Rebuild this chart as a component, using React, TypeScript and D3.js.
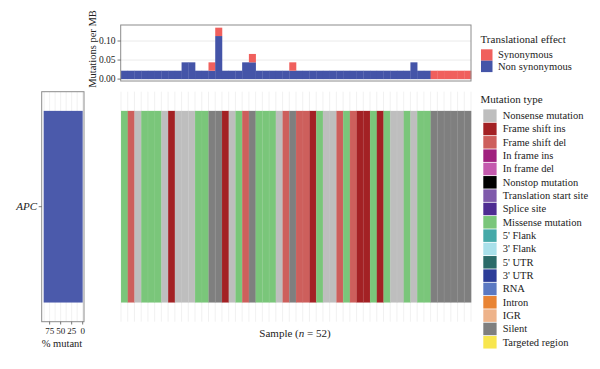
import React from 'react';
import * as d3 from 'd3';

// APC mutation type for each sample, left to right
const sampleMutation = [
  'Missense mutation', 'Frame shift del', 'Nonsense mutation', 'Missense mutation', 'Missense mutation',
  'Missense mutation', 'Nonsense mutation', 'Frame shift ins', 'Nonsense mutation', 'Nonsense mutation',
  'Nonsense mutation', 'Missense mutation', 'Missense mutation', 'Silent', 'Silent',
  'Frame shift ins', 'Nonsense mutation', 'Missense mutation', 'Frame shift del', 'Silent',
  'Missense mutation', 'Missense mutation', 'Missense mutation', 'Nonsense mutation', 'Frame shift del',
  'Silent', 'Frame shift del', 'Frame shift del', 'Frame shift ins', 'Missense mutation',
  'Nonsense mutation', 'Nonsense mutation', 'Frame shift del', 'Missense mutation', 'Frame shift del',
  'Frame shift ins', 'Frame shift ins', 'Missense mutation', 'Frame shift ins', 'Missense mutation',
  'Nonsense mutation', 'Nonsense mutation', 'Missense mutation', 'Nonsense mutation', 'Missense mutation',
  'Missense mutation', 'Silent', 'Silent', 'Silent', 'Silent', 'Silent', 'Silent',
];
const samples = sampleMutation.map((_, i) => 'S' + (i + 1));

// mutations per MB, per sample
const nonSynonymous = [
  0.022, 0.022, 0.022, 0.022, 0.022, 0.022, 0.022, 0.022, 0.022, 0.044,
  0.044, 0.022, 0.022, 0.022, 0.113, 0.022, 0.022, 0.022, 0.044, 0.044,
  0.022, 0.022, 0.022, 0.022, 0.022, 0.022, 0.022, 0.022, 0.022, 0.022,
  0.022, 0.022, 0.022, 0.022, 0.022, 0.022, 0.022, 0.022, 0.022, 0.022,
  0.022, 0.022, 0.022, 0.044, 0.022, 0.022, 0, 0, 0, 0, 0, 0,
];
const synonymous = [
  0, 0, 0, 0, 0, 0, 0, 0, 0, 0,
  0, 0, 0, 0.022, 0.022, 0, 0, 0, 0, 0.022,
  0, 0, 0, 0, 0, 0.022, 0, 0, 0, 0,
  0, 0, 0, 0, 0, 0, 0, 0, 0, 0,
  0, 0, 0, 0, 0, 0, 0.022, 0.022, 0.022, 0.022, 0.022, 0.022,
];
const topTicks = [0.0, 0.05, 0.1];

const genes = ['APC'];
const pctMutant = [88.5];
const pctTicks = [75, 50, 25, 0];

const effectLabels = ['Synonymous', 'Non synonymous'];
const effectColors = ['#F0605D', '#4454A8'];

const mutationTypes = [
  'Nonsense mutation', 'Frame shift ins', 'Frame shift del', 'In frame ins', 'In frame del',
  'Nonstop mutation', 'Translation start site', 'Splice site', 'Missense mutation', "5' Flank",
  "3' Flank", "5' UTR", "3' UTR", 'RNA', 'Intron', 'IGR', 'Silent', 'Targeted region',
];
const mutationColors = [
  '#BEBEBE', '#A32124', '#CD5F5C', '#A0217E', '#C45AAE', '#000000', '#7F5AAB', '#4E2C92',
  '#7AC67A', '#45A9A8', '#A9E0EA', '#2B6B69', '#2C3D98', '#5B79C2', '#E98434', '#EEB38A',
  '#7F7F7F', '#F8E64E',
];

const font = '"Liberation Serif", "DejaVu Serif", serif';

export default function App() {
  const typeColor = d3.scaleOrdinal<string, string>().domain(mutationTypes).range(mutationColors);

  // shared sample axis
  const x = d3.scaleBand().domain(samples).range([121, 471]);

  // top bar chart
  const yTop = d3.scaleLinear().domain([-0.005, 0.142]).range([81, 25]);
  const stacked = samples.map((s, i) => ({ s, ns: nonSynonymous[i], syn: synonymous[i] }));

  // left gene panel
  const xPct = d3.scaleLinear().domain([93, -3]).range([41.7, 84]);
  const yGene = d3.scaleBand().domain(genes).range([91.7, 321.7]).paddingOuter(0.1).paddingInner(0);
  const pctGrid = d3.range(0, 90, 12.5);

  const legY = d3.scaleBand().domain(mutationTypes).range([109, 109 + 13.33 * mutationTypes.length]);

  return (
    <svg width={600} height={369} style={{ position: 'absolute', left: 0, top: 0, fontFamily: font }}>
      <rect width={600} height={369} fill="#fff" />

      {/* top panel */}
      <g>
        {topTicks.map((t) => (
          <line key={'g' + t} x1={121} x2={471} y1={yTop(t)} y2={yTop(t)} stroke="#E4E4E4" strokeWidth={0.8} />
        ))}
        {stacked.map((d) => (
          <g key={d.s}>
            {d.ns > 0 && (
              <rect x={x(d.s)} width={x.bandwidth() + 0.3} y={yTop(d.ns)} height={yTop(0) - yTop(d.ns)} fill={effectColors[1]} />
            )}
            {d.syn > 0 && (
              <rect x={x(d.s)} width={x.bandwidth() + 0.3} y={yTop(d.ns + d.syn)} height={yTop(d.ns) - yTop(d.ns + d.syn)} fill={effectColors[0]} />
            )}
          </g>
        ))}
        <rect x={120.7} y={25} width={350.3} height={56} fill="none" stroke="#8C8C8C" strokeWidth={1} />
        {topTicks.map((t) => (
          <g key={'t' + t}>
            <line x1={117.5} x2={120.7} y1={yTop(t)} y2={yTop(t)} stroke="#555" strokeWidth={0.8} />
            <text x={115.5} y={yTop(t)} dy="0.33em" textAnchor="end" fontSize={9.5} fill="#222">
              {t.toFixed(2)}
            </text>
          </g>
        ))}
        <text transform="translate(96,49) rotate(-90)" textAnchor="middle" fontSize={10.5} fill="#222">
          Mutations per MB
        </text>
      </g>

      {/* main tile panel */}
      <g>
        {samples.map((s) => (
          <line key={'v' + s} x1={x(s)} x2={x(s)} y1={91.7} y2={321.7} stroke="#EEEEEE" strokeWidth={0.8} />
        ))}
        <line x1={471} x2={471} y1={91.7} y2={321.7} stroke="#EEEEEE" strokeWidth={0.8} />
        {genes.map((g) =>
          samples.map((s, i) => (
            <rect
              key={g + s}
              x={x(s)}
              width={x.bandwidth() + 0.3}
              y={yGene(g)}
              height={yGene.bandwidth()}
              fill={typeColor(sampleMutation[i])}
            />
          ))
        )}
        {samples.map((s) => (
          <line key={'w' + s} x1={x(s)} x2={x(s)} y1={yGene('APC')} y2={yGene('APC')! + yGene.bandwidth()} stroke="#ffffff" strokeOpacity={0.12} strokeWidth={0.6} />
        ))}
        <text x={295} y={336.5} textAnchor="middle" fontSize={11} fill="#222">
          Sample (<tspan fontStyle="italic">n</tspan> = 52)
        </text>
      </g>

      {/* left gene panel */}
      <g>
        {pctGrid.map((v) => (
          <line key={'p' + v} x1={xPct(v)} x2={xPct(v)} y1={91.7} y2={321.7} stroke="#EBEBEB" strokeWidth={0.7} />
        ))}
        {genes.map((g, i) => (
          <rect key={g} x={xPct(pctMutant[i])} width={xPct(0) - xPct(pctMutant[i])} y={yGene(g)} height={yGene.bandwidth()} fill="#4B5AAB" />
        ))}
        <rect x={41.7} y={91.7} width={42.3} height={230} fill="none" stroke="#8C8C8C" strokeWidth={1} />
        {genes.map((g) => (
          <g key={'l' + g}>
            <line x1={38.7} x2={41.7} y1={yGene(g)! + yGene.bandwidth() / 2} y2={yGene(g)! + yGene.bandwidth() / 2} stroke="#555" strokeWidth={0.8} />
            <text x={37} y={yGene(g)! + yGene.bandwidth() / 2} dy="0.33em" textAnchor="end" fontSize={11} fontStyle="italic" fill="#222">
              {g}
            </text>
          </g>
        ))}
        {pctTicks.map((t) => (
          <g key={'pt' + t}>
            <line x1={xPct(t)} x2={xPct(t)} y1={321.7} y2={324.5} stroke="#555" strokeWidth={0.8} />
            <text x={xPct(t)} y={333.5} textAnchor="middle" fontSize={9} fill="#222">
              {t}
            </text>
          </g>
        ))}
        <text x={62} y={346.5} textAnchor="middle" fontSize={10.5} fill="#222">
          % mutant
        </text>
      </g>

      {/* legends */}
      <g>
        <text x={480.5} y={42.5} fontSize={11} fill="#222">Translational effect</text>
        {effectLabels.map((l, i) => (
          <g key={l}>
            <rect x={481} y={49.3 + i * 11.4} width={11.5} height={11.4} fill={effectColors[i]} />
            <text x={498} y={55 + i * 11.4} dy="0.33em" fontSize={10.5} fill="#222">{l}</text>
          </g>
        ))}
        <text x={480.5} y={103} fontSize={11} fill="#222">Mutation type</text>
        {mutationTypes.map((m) => (
          <g key={m}>
            <rect x={483.3} y={legY(m)! + 0.4} width={13.3} height={legY.bandwidth() - 0.8} fill={typeColor(m)} />
            <text x={502.7} y={legY(m)! + legY.bandwidth() / 2} dy="0.33em" fontSize={10.5} fill="#222">{m}</text>
          </g>
        ))}
      </g>
    </svg>
  );
}
